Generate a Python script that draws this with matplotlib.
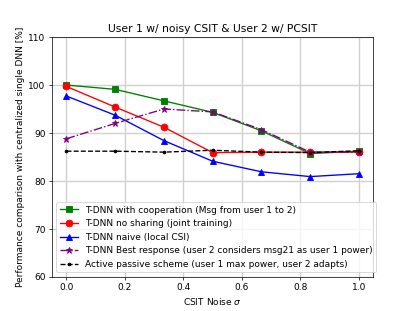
import matplotlib
matplotlib.use("Agg")
import matplotlib.pyplot as plt

sigma = [0.0, 1/6, 2/6, 3/6, 4/6, 5/6, 1.0]

coop = [100.0, 99.1, 96.7, 94.3, 90.45, 85.7, 86.2]
no_sharing = [99.7, 95.4, 91.2, 85.9, 86.0, 86.0, 86.0]
naive = [97.7, 93.7, 88.4, 84.1, 81.9, 80.9, 81.5]
best_resp = [88.8, 92.0, 95.0, 94.4, 90.7, 86.0, 86.0]
active_passive = [86.2, 86.2, 86.0, 86.4, 86.0, 85.9, 86.3]

labels = [
    "T-DNN with cooperation (Msg from user 1 to 2)",
    "T-DNN no sharing (joint training)",
    "T-DNN naive (local CSI)",
    "T-DNN Best response (user 2 considers msg21 as user 1 power)",
    "Active passive scheme (user 1 max power, user 2 adapts)",
]

fig = plt.figure(figsize=(6.4, 4.8), dpi=64.84)
ax = fig.add_subplot(111)

ax.plot(sigma, coop, "g-s", markersize=7.5, label=labels[0])
ax.plot(sigma, no_sharing, "r-o", markersize=7.5, label=labels[1])
ax.plot(sigma, naive, "b-^", markersize=7.5, label=labels[2])
ax.plot(sigma, best_resp, "-.*", color="purple", markersize=7, label=labels[3])
ax.plot(sigma, active_passive, "k--.", label=labels[4])

ax.set_ylim(60, 110)
ax.set_yticks([60, 70, 80, 90, 100, 110])
ax.grid(True, linewidth=1.5, color="#d0d0d0")
ax.set_title("User 1 w/ noisy CSIT & User 2 w/ PCSIT")
ax.set_xlabel(r"CSIT Noise $\sigma$")
ax.set_ylabel("Performance comparison with centralized single DNN [%]")
ax.legend(loc="lower left")

plt.savefig("out.png", dpi=64.84)
